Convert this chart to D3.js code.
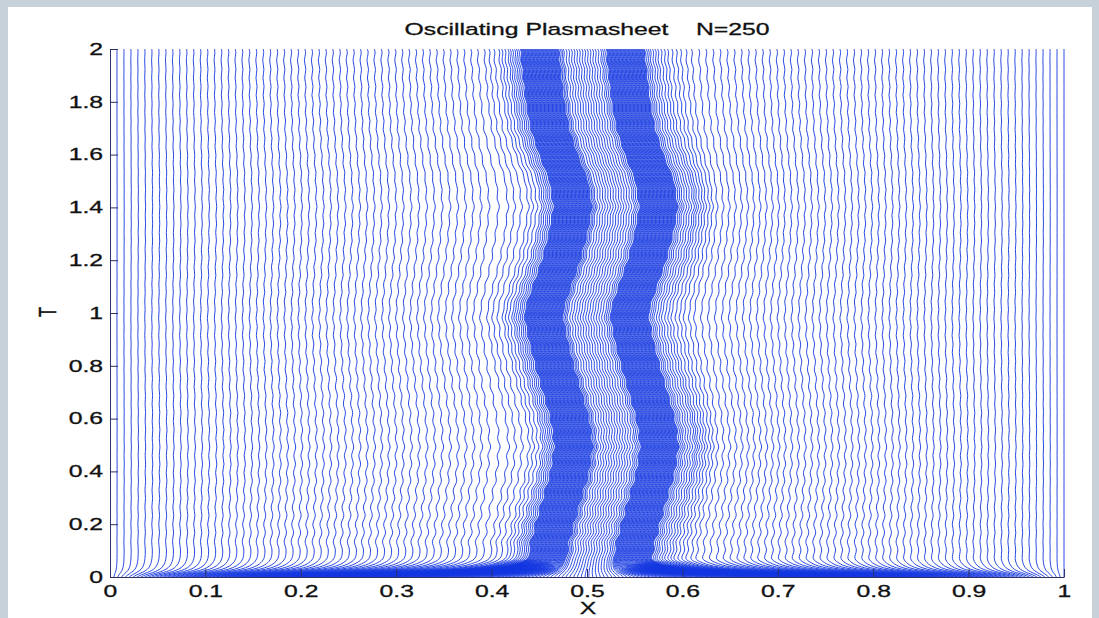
<!DOCTYPE html>
<html>
<head>
<meta charset="utf-8">
<script src="https://cdn.jsdelivr.net/npm/d3@7"></script>
<style>
  html, body { margin: 0; padding: 0; background: #c6d1d9; }
  svg { display: block; }
  text { font-family: "Liberation Sans", Arial, Helvetica, sans-serif; }
</style>
</head>
<body>
<svg id="chart" width="1099" height="618"></svg>
<script>
// ---------------- data ----------------
const title = "Oscillating Plasmasheet    N=250";
const xLabel = "X";
const yLabel = "T";
const particleCount = 250;

// tick values and labels
const xTickValues = [0, 0.1, 0.2, 0.3, 0.4, 0.5, 0.6, 0.7, 0.8, 0.9, 1];
const xTickLabels = ["0", "0.1", "0.2", "0.3", "0.4", "0.5", "0.6", "0.7", "0.8", "0.9", "1"];
const yTickValues = [0, 0.2, 0.4, 0.6, 0.8, 1, 1.2, 1.4, 1.6, 1.8, 2];
const yTickLabels = ["0", "0.2", "0.4", "0.6", "0.8", "1", "1.2", "1.4", "1.6", "1.8", "2"];

// settled particle positions (particle index -> X) when the sheet pair is centred at 0.5
const profileIndex = [0, 54, 57, 60, 63, 66, 114, 117, 131, 134, 182, 185, 188, 191, 194, 196, 249];
const profileX     = [0.000, 0.395, 0.411, 0.421, 0.428, 0.434, 0.474, 0.479, 0.518, 0.524, 0.564, 0.570, 0.578, 0.588, 0.601, 0.612, 1.000];
const profileCentre = 0.5;

// centre of the two dense sheets versus time
const sheetT   = [0, 0.1, 0.2, 0.3, 0.4, 0.5, 0.6, 0.7, 0.8, 0.9, 1.0, 1.1, 1.2, 1.3, 1.4, 1.5, 1.6, 1.7, 1.8, 1.9, 2.0];
const sheetMid = [0.500, 0.505, 0.512, 0.520, 0.528, 0.532, 0.528, 0.520, 0.512, 0.505, 0.500, 0.509, 0.519, 0.526, 0.531, 0.527, 0.516, 0.507, 0.502, 0.499, 0.496];

// how strongly lines at a given X follow the sheet motion
const followX = [0, 0.1, 0.2, 0.3, 0.38, 0.42, 0.58, 0.62, 0.7, 0.8, 0.9, 1];
const followW = [0, 0.05, 0.12, 0.25, 0.55, 1, 1, 0.55, 0.25, 0.12, 0.05, 0];

// fast start: fraction of the initial (uniform) offset still left at early times
const relaxT = [0, 0.004, 0.008, 0.012, 0.017, 0.025, 0.035, 0.05, 0.07];
const relaxF = [1, 0.9, 0.8, 0.68, 0.52, 0.32, 0.17, 0.06, 0];

// small fast ripple on every line (extremes, thousandths of X), spaced half a ripple period apart
const rippleStart = 0.07;
const rippleHalfPeriod = 0.0325;
const rippleAmp = [1.5, -1.5, 1.5, -1.4, 1.4, -1.4, 1.3, -1.3, 1.3, -1.2,
                   1.2, -1.2, 1.1, -1.1, 1.1, -1.1, 1.0, -1.0, 1.0, -1.0,
                   1.0, -1.0, 1.0, -0.9, 0.9, -0.9, 0.9, -0.9, 0.9, -0.9,
                   0.9, -0.9, 0.9, -0.9, 0.9, -0.9, 0.9, -0.8, 0.8, -0.8,
                   0.8, -0.8, 0.8, -0.8, 0.8, -0.8, 0.8, -0.8, 0.8, -0.8,
                   0.8, -0.8, 0.8, -0.8, 0.8, -0.8, 0.8, -0.8, 0.8, -0.8];
const rippleX = [0, 0.05, 0.2, 0.4, 0.6, 0.8, 0.95, 1];
const rippleW = [0, 0.3, 0.8, 1, 1, 0.8, 0.3, 0];

// ---------------- drawing ----------------
const svg = d3.select("#chart");
const W = 1099, H = 618;
const stretch = 1.5;           // the original picture is stretched horizontally
const fontSize = 16.5;

svg.append("rect").attr("x", 8).attr("y", 7).attr("width", 1084).attr("height", H - 7).attr("fill", "#ffffff");

const plot = { left: 110, right: 1064, top: 49, bottom: 577 };
const xs = d3.scaleLinear().domain([0, 1]).range([plot.left, plot.right]);
const ys = d3.scaleLinear().domain([0, 2]).range([plot.bottom, plot.top]);

const profile = d3.scaleLinear().domain(profileIndex).range(profileX);
const mid = d3.scaleLinear().domain(sheetT).range(sheetMid).clamp(true);
const follow = d3.scaleLinear().domain(followX).range(followW).clamp(true);
const relax = d3.scaleLinear().domain(relaxT).range(relaxF).clamp(true);
const rippleWeight = d3.scaleLinear().domain(rippleX).range(rippleW).clamp(true);

const samples = [];
relaxT.forEach(t => samples.push({ t, r: 0 }));
rippleAmp.forEach((a, k) => {
  const t = rippleStart + (k + 1) * rippleHalfPeriod;
  if (t < 2) samples.push({ t, r: a / 1000 });
});
samples.push({ t: 2, r: 0 });

const trajectories = d3.range(particleCount).map(i => {
  const xRest = profile(i);
  const xInit = i / (particleCount - 1);
  const fw = follow(xRest), rw = rippleWeight(xRest);
  return samples.map(s => {
    const xEq = xRest + (mid(s.t) - profileCentre) * fw + s.r * rw;
    return { t: s.t, x: xEq + relax(s.t) * (xInit - xEq) };
  });
});

svg.append("clipPath").attr("id", "clip")
  .append("rect").attr("x", plot.left).attr("y", plot.top)
  .attr("width", plot.right - plot.left + 2).attr("height", plot.bottom - plot.top + 1);

const line = d3.line().x(d => xs(d.x)).y(d => ys(d.t)).curve(d3.curveCatmullRom);

svg.append("g").attr("clip-path", "url(#clip)")
  .selectAll("path").data(trajectories).join("path")
  .attr("d", line)
  .attr("fill", "none")
  .attr("stroke", "#1236e0")
  .attr("stroke-width", 0.9);

// axes (MATLAB style: inward ticks)
const xAxis = d3.axisBottom(xs).tickValues(xTickValues).tickFormat((d, i) => xTickLabels[i])
  .tickSizeInner(-8).tickSizeOuter(0).tickPadding(8);
const yAxis = d3.axisLeft(ys).tickValues(yTickValues).tickFormat((d, i) => yTickLabels[i])
  .tickSizeInner(-8).tickSizeOuter(0).tickPadding(7);

const gx = svg.append("g").attr("transform", `translate(0,${plot.bottom})`).call(xAxis);
const gy = svg.append("g").attr("transform", `translate(${plot.left},0)`).call(yAxis);
[gx, gy].forEach(g => {
  g.select(".domain").attr("stroke", "#30306a").attr("stroke-width", 1);
  g.selectAll(".tick line").attr("stroke", "#30306a");
  g.selectAll(".tick text").attr("fill", "#111").attr("font-size", fontSize)
    .attr("stroke", "#111").attr("stroke-width", 0.3)
    .attr("font-family", "'Liberation Sans', Arial, sans-serif")
    .each(function() {
      const t = d3.select(this);
      const x0 = +t.attr("x") || 0;
      t.attr("x", x0 / stretch).attr("transform", `scale(${stretch},1)`);
    });
});

// title and labels
const labelStyle = sel => sel.attr("font-size", fontSize).attr("fill", "#111")
  .attr("stroke", "#111").attr("stroke-width", 0.3).attr("text-anchor", "middle");
svg.append("text").attr("transform", `translate(587,35) scale(${stretch},1)`)
  .call(labelStyle).style("white-space", "pre").text(title);
svg.append("text").attr("transform", `translate(588,614) scale(${stretch},1)`)
  .call(labelStyle).text(xLabel);
svg.append("text").attr("transform", `translate(56,312) scale(${stretch},1) rotate(-90)`)
  .call(labelStyle).text(yLabel);
</script>
</body>
</html>
